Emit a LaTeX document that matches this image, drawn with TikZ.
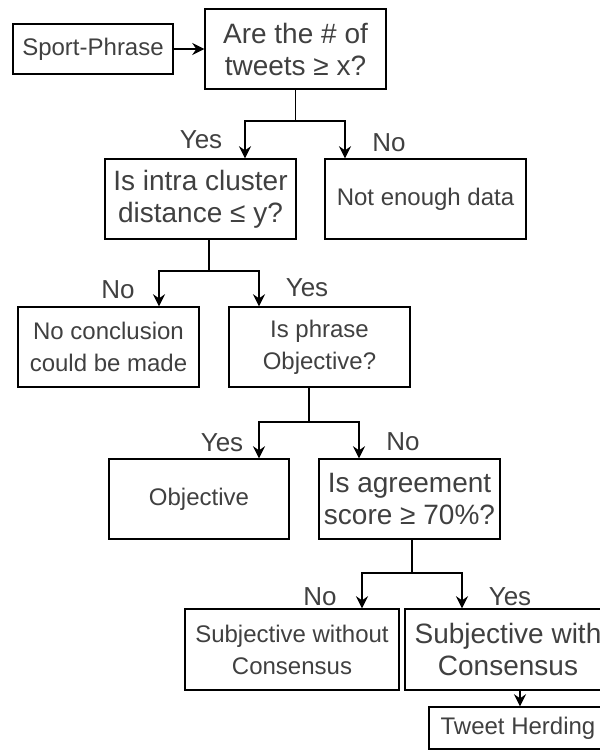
\documentclass[tikz,border=0pt]{standalone}
\usepackage{fontspec}
\setmainfont{Liberation Sans}
\usepackage{xcolor}
\usetikzlibrary{arrows.meta}

\begin{document}
\begin{tikzpicture}[x=0.75pt, y=-0.75pt,
  box/.style={draw, line width=1.1pt, text=black!75, align=center, inner sep=0pt},
  boxsize/.style 2 args={minimum width=#1*0.75pt, minimum height=#2*0.75pt},
  bigtxt/.style={font=\fontsize{21}{24}\selectfont},
  smalltxt/.style={font=\fontsize{18}{24}\selectfont},
  lab/.style={text=black!75, font=\fontsize{19.5}{22}\selectfont},
  conn/.style={line width=1.1pt},
  arr/.style={conn, -{Stealth[length=9pt,width=9pt,inset=3pt]}}]
  \useasboundingbox (0,0) rectangle (600,751);
  \clip (0,0) rectangle (600,751);
  % boxes
  \node[box, smalltxt, boxsize={160}{50}] (sport) at (93,49) {Sport-Phrase};
  \node[box, bigtxt, boxsize={181}{80}] (q1) at (295.5,49) {Are the \# of\\tweets ≥ x?};
  \node[box, bigtxt, boxsize={191}{80}] (q2) at (200.5,199) {Is intra cluster\\distance ≤ y?};
  \node[box, smalltxt, boxsize={201}{80}] (nodata) at (425.5,199) {Not enough data};
  \node[box, smalltxt, boxsize={181}{80}] (nocon) at (108.5,347) {No conclusion\\could be made};
  \node[box, smalltxt, boxsize={181}{80}] (q3) at (319.5,347) {Is phrase\\Objective?};
  \node[box, smalltxt, boxsize={180}{80}] (obj) at (199,499) {Objective};
  \node[box, bigtxt, boxsize={181}{80}] (q4) at (409.5,499) {Is agreement\\score ≥ 70\%?};
  \node[box, smalltxt, boxsize={214}{81}] (subjno) at (292,649.5) {Subjective without\\Consensus};
  \node[box, bigtxt, boxsize={206}{81}] (subjyes) at (508,649.5) {Subjective with\\Consensus};
  \node[box, smalltxt, boxsize={178}{42}] (tweet) at (518,728) {Tweet Herding};
  % branch points
  \coordinate (j1) at (295.5,121);
  \coordinate (j2) at (209,271);
  \coordinate (j3) at (309,422);
  \coordinate (j4) at (412,573);
  % connectors
  \draw[arr] (sport) -- (q1);
  \draw[conn] (q1.south) -- (j1);
  \draw[arr] (j1) -| ([shift={(44.5,0)}]q2.north);
  \draw[arr] (j1) -| ([shift={(-80.5,0)}]nodata.north);
  \draw[conn] (q2.south -| j2) -- (j2);
  \draw[arr] (j2) -| ([shift={(50.5,0)}]nocon.north);
  \draw[arr] (j2) -| ([shift={(-60.5,0)}]q3.north);
  \draw[conn] (q3.south -| j3) -- (j3);
  \draw[arr] (j3) -| ([shift={(60,0)}]obj.north);
  \draw[arr] (j3) -| ([shift={(-50.5,0)}]q4.north);
  \draw[conn] (q4.south -| j4) -- (j4);
  \draw[arr] (j4) -| ([shift={(70,0)}]subjno.north);
  \draw[arr] (j4) -| ([shift={(-46,0)}]subjyes.north);
  \draw[arr] ([shift={(12,0)}]subjyes.south) -- ([shift={(2,0)}]tweet.north);
  % yes / no labels
  \node[lab] (l1) at (201,140) {Yes};
  \node[lab] (l2) at (389,143) {No};
  \node[lab] (l3) at (118,290) {No};
  \node[lab] (l4) at (307,288) {Yes};
  \node[lab] (l5) at (222,443) {Yes};
  \node[lab] (l6) at (403,442) {No};
  \node[lab] (l7) at (320,597) {No};
  \node[lab] (l8) at (510,597) {Yes};
\end{tikzpicture}
\end{document}
